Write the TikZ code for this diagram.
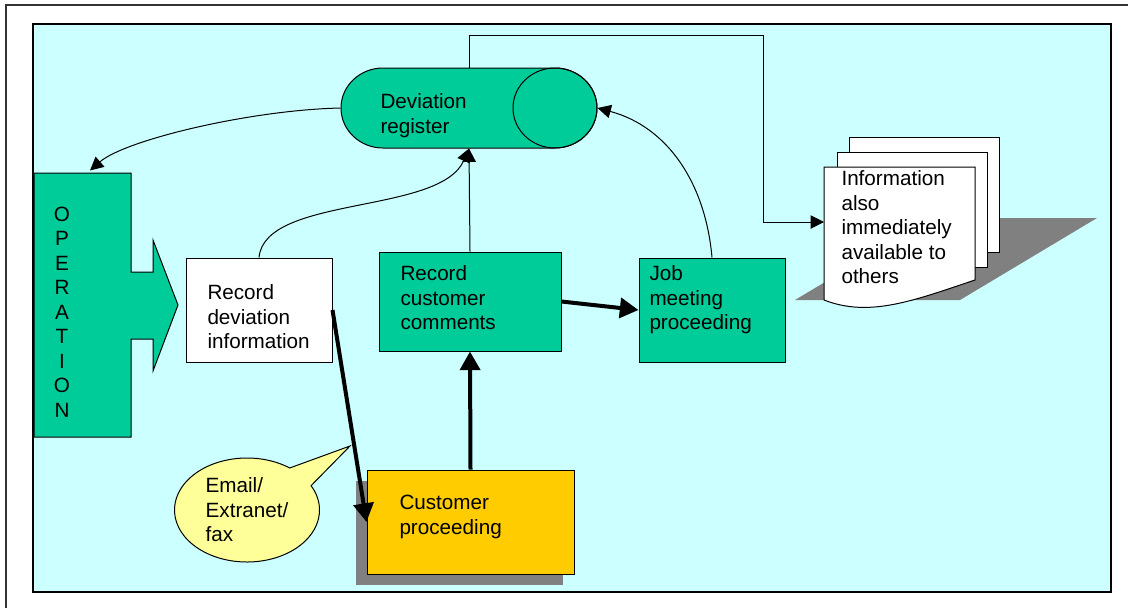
\documentclass[tikz,border=0pt]{standalone}
\usepackage{fontspec}
\setmainfont{Liberation Sans}
\usetikzlibrary{arrows.meta,shapes.callouts,shadows}
\definecolor{seagreen}{HTML}{00CC99}
\definecolor{paleaqua}{HTML}{CCFFFF}
\definecolor{gold}{HTML}{FFCC00}
\definecolor{paleyellow}{HTML}{FFFF99}
\definecolor{shadowgrey}{HTML}{808080}

\begin{document}
\begin{tikzpicture}[x=.75pt,y=.75pt,line width=.75pt,
    font=\fontsize{15.5}{18.4}\selectfont,
    box/.style={draw,rectangle,inner sep=0pt},
    txt/.style={anchor=north west,align=left,inner sep=0pt},
    thinarrow/.style={-{Triangle[length=10pt,width=10pt]}},
    thickarrow/.style={line width=3pt,-{Triangle[length=14pt,width=15pt]}}]
    \useasboundingbox (0,0) rectangle (1128,-608);
    % frame and background
    \draw[line width=1.5pt,black!80] (6,-608) |- (1128,-5);
    \draw[fill=paleaqua,line width=1.1pt] (33,-24) rectangle (1111,-592);

    % operation block arrow
    \draw[fill=seagreen] (34,-173) -- (131,-173) -- (131,-272) -- (153,-272) -- (153,-240)
        -- (178,-305) -- (153,-371) -- (153,-339) -- (131,-339) -- (131,-437) -- (34,-437) -- cycle;
    \node[align=center,inner sep=0pt,minimum height=208.5pt] (operation) at (62,-312) {O\\P\\E\\R\\A\\T\\I\\O\\N};

    % register, a lying cylinder
    \node[inner sep=0pt,minimum width=192pt,minimum height=60pt] (register) at (469,-108) {};
    \draw[fill=seagreen] (383,-68) -- (555,-68) arc[start angle=90,end angle=-90,x radius=42,y radius=40]
        -- (383,-148) arc[start angle=270,end angle=90,x radius=42,y radius=40] -- cycle;
    \draw (555,-108) ellipse[x radius=42,y radius=40];
    \node[txt] (register text) at (380,-93) {Deviation\\register};

    % boxes
    \node[box,fill=white,minimum width=109.5pt,minimum height=78pt] (recdev) at (259,-310) {};
    \node[txt] (recdev text) at (207,-284) {Record\\deviation\\information};
    \node[box,fill=seagreen,minimum width=136.5pt,minimum height=74.25pt] (reccust) at (470,-301.5) {};
    \node[txt] (reccust text) at (400,-265) {Record\\customer\\comments};
    \node[box,fill=seagreen,minimum width=109.5pt,minimum height=78pt] (jobmeet) at (712,-310) {};
    \node[txt] (jobmeet text) at (649,-265) {Job\\meeting\\proceeding};
    \node[box,fill=gold,minimum width=155.25pt,minimum height=78pt,
        drop shadow={shadow xshift=-8.25pt,shadow yshift=-8.25pt,fill=shadowgrey,opacity=1}] (custproc) at (470.5,-522) {};
    \node[txt] (custproc text) at (399,-495) {Customer\\proceeding};

    % callout
    \node[ellipse callout,draw,fill=paleyellow,minimum width=108.75pt,minimum height=78pt,inner sep=0pt,
        align=left,callout absolute pointer={(350,-446)},callout pointer arc=26] (bubble) at (247,-510) {Email/\\Extranet/\\fax};

    % stack of documents
    \fill[shadowgrey] (795,-300) -- (932,-218) -- (1097,-218) -- (960,-300) -- cycle;
    \draw[fill=white] (849,-137) rectangle (999,-252);
    \draw[fill=white] (837,-152) rectangle (987,-267);
    \draw[fill=white] (824,-167) -- (975,-167) -- (975,-280) .. controls (915,-300) and (870,-318) .. (824,-300) -- cycle;
    \node[txt] (docs) at (841,-170) {Information\\also\\immediately\\available to\\others};
    \coordinate (docs in) at (824,-222);
    \coordinate (corner) at (763,-35);

    % connectors
    \draw[thinarrow] (register.west) .. controls (250,-110) and (125,-140) .. ([xshift=21pt,yshift=1.5pt]operation.north);
    \draw[thinarrow] (recdev.north) .. controls (265,-195) and (440,-215) .. (register.south);
    \draw[thinarrow] (reccust.north) -- (register.south);
    \draw[thinarrow] (jobmeet.north) to[out=95,in=-15] (register.east);
    \draw[thinarrow] (register.north) |- (corner) |- (docs in);
    \draw[thickarrow] (reccust.east) -- (jobmeet.west);
    \draw[thickarrow] (custproc.north) -- (reccust.south);
    \draw[thickarrow] (recdev.east) -- (custproc.west);
\end{tikzpicture}
\end{document}
